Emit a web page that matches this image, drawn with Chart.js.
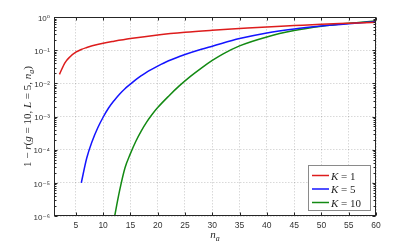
<!DOCTYPE html>
<html lang="en">
<head>
    <meta charset="UTF-8">
    <title>1 - r(g=10, L=5, n_a)</title>
    <style>
        html, body { margin: 0; padding: 0; background: #fff; }
        canvas { display: block; }
    </style>
</head>
<body>
    <canvas id="myChart" width="415" height="243"></canvas>

    <script src="https://cdn.jsdelivr.net/npm/chart.js"></script>
    <script>
        // values (log y axis)
        const nK1 = [2, 3, 4, 5, 6, 7, 8, 10, 12, 15, 20, 25, 30, 35, 40, 45, 50, 55, 60];
        const valK1 = [0.0186, 0.0417, 0.0646, 0.087, 0.105, 0.120, 0.135, 0.162, 0.186, 0.224, 0.288, 0.347, 0.398, 0.447, 0.501, 0.550, 0.603, 0.646, 0.692];

        const nK5 = [6, 7, 8, 9, 10, 11, 12, 13, 14, 15, 16, 17, 18, 20, 22, 25, 28, 30, 35, 40, 45, 50, 55, 60];
        const valK5 = [1e-5, 5.6e-5, 1.8e-4, 4.5e-4, 9.5e-4, 1.8e-3, 3.0e-3, 4.7e-3, 6.9e-3, 9.5e-3, 0.0129, 0.017, 0.0219, 0.0331, 0.0479, 0.0741, 0.107, 0.132, 0.224, 0.331, 0.437, 0.537, 0.631, 0.724];

        const nK10 = [12, 13, 14, 15, 16, 17, 18, 19, 20, 22, 24, 26, 28, 30, 32, 35, 40, 45, 50, 55, 60];
        const valK10 = [7.9e-7, 5.6e-6, 2.8e-5, 7.6e-5, 1.8e-4, 3.7e-4, 6.9e-4, 1.17e-3, 1.86e-3, 4.1e-3, 8.5e-3, 0.0162, 0.0288, 0.049, 0.0776, 0.135, 0.251, 0.389, 0.525, 0.646, 0.759];

        const kLabels = ['1', '5', '10'];
        const xTicks = [5, 10, 15, 20, 25, 30, 35, 40, 45, 50, 55, 60];
        const yTicks = [1e-6, 1e-5, 1e-4, 1e-3, 1e-2, 1e-1, 1];
        const minorMult = [2, 3, 4, 5, 6, 7, 8, 9];

        const colors = ['#dd1c1c', '#1414ff', '#138a13'];
        const serif = '"Liberation Serif", "DejaVu Serif", serif';
        const sans = '"Liberation Sans", "DejaVu Sans", sans-serif';
        const ink = '#262626';

        const sup = { '0': '⁰', '1': '¹', '2': '²', '3': '³', '4': '⁴', '5': '⁵', '6': '⁶', '7': '⁷', '8': '⁸', '9': '⁹', '-': '⁻' };
        const toSup = s => String(s).split('').map(c => sup[c] || c).join('');

        const pts = (xs, ys) => xs.map((x, i) => ({ x: x, y: ys[i] }));

        // text with mixed italic / subscript parts: [text, italic, sub]
        function drawRich(ctx, parts, x, y, size, align) {
            const fonts = parts.map(p => (p[1] ? 'italic ' : '') + (p[2] ? size * 0.72 : size) + 'px ' + serif);
            let total = 0;
            parts.forEach((p, i) => { ctx.font = fonts[i]; total += ctx.measureText(p[0]).width; });
            let cx = align === 'center' ? x - total / 2 : x;
            parts.forEach((p, i) => {
                ctx.font = fonts[i];
                ctx.fillText(p[0], cx, y + (p[2] ? size * 0.25 : 0));
                cx += ctx.measureText(p[0]).width;
            });
        }

        const framePlugin = {
            id: 'frame',
            afterDraw(chart) {
                const { ctx, chartArea: a, scales: { x, y } } = chart;
                const L = Math.round(a.left) + 0.5, R = Math.round(a.right) - 0.5;
                const T = Math.round(a.top) + 0.5, B = Math.round(a.bottom) - 0.5;
                ctx.save();
                ctx.strokeStyle = ink;
                ctx.lineWidth = 1;
                ctx.beginPath();
                // x ticks (top and bottom, inward)
                xTicks.forEach(v => {
                    const px = Math.round(x.getPixelForValue(v)) + 0.5;
                    ctx.moveTo(px, B); ctx.lineTo(px, B - 3);
                    ctx.moveTo(px, T); ctx.lineTo(px, T + 3);
                });
                // y major and minor ticks (left and right)
                yTicks.forEach((v, i) => {
                    const py = Math.round(y.getPixelForValue(v)) + 0.5;
                    ctx.moveTo(L, py); ctx.lineTo(L + 3, py);
                    ctx.moveTo(R, py); ctx.lineTo(R - 3, py);
                    if (i < yTicks.length - 1) {
                        minorMult.forEach(m => {
                            const pm = Math.round(y.getPixelForValue(v * m)) + 0.5;
                            ctx.moveTo(L, pm); ctx.lineTo(L + 2, pm);
                            ctx.moveTo(R, pm); ctx.lineTo(R - 2, pm);
                        });
                    }
                });
                ctx.stroke();
                ctx.strokeRect(L, T, R - L, B - T);

                // axis titles
                ctx.fillStyle = ink;
                ctx.textBaseline = 'alphabetic';
                drawRich(ctx, [['n', 1], ['a', 1, 1]], (a.left + a.right) / 2, 238, 11, 'center');
                ctx.save();
                ctx.translate(31, (a.top + a.bottom) / 2);
                ctx.rotate(-Math.PI / 2);
                drawRich(ctx, [['1 − ', 0], ['r', 1], ['(', 0], ['g', 1], [' = 10, ', 0], ['L', 1], [' = 5, ', 0], ['n', 1], ['a', 1, 1], [')', 0]], 0, 0, 11, 'center');
                ctx.restore();

                // legend box
                const bx = 308.5, by = 165.5, bw = 62, bh = 45;
                ctx.fillStyle = '#fff';
                ctx.fillRect(bx, by, bw, bh);
                ctx.strokeStyle = '#8a8a8a';
                ctx.strokeRect(bx, by, bw, bh);
                chart.data.datasets.forEach((ds, i) => {
                    const ry = 175.5 + i * 13.5;
                    ctx.strokeStyle = ds.borderColor;
                    ctx.lineWidth = 1.5;
                    ctx.beginPath();
                    ctx.moveTo(312, ry); ctx.lineTo(329, ry);
                    ctx.stroke();
                    ctx.fillStyle = ink;
                    drawRich(ctx, [['K', 1], [' = ' + kLabels[i], 0]], 331, ry + 4, 11, 'left');
                });
                ctx.restore();
            }
        };

        const ctx = document.getElementById('myChart').getContext('2d');
        const myChart = new Chart(ctx, {
            type: 'line',
            data: {
                datasets: [
                    { label: 'K = 1', data: pts(nK1, valK1) },
                    { label: 'K = 5', data: pts(nK5, valK5) },
                    { label: 'K = 10', data: pts(nK10, valK10) }
                ].map((d, i) => Object.assign(d, {
                    borderColor: colors[i],
                    backgroundColor: colors[i],
                    borderWidth: 1.5,
                    pointRadius: 0,
                    fill: false,
                    cubicInterpolationMode: 'monotone'
                }))
            },
            options: {
                responsive: false,
                animation: false,
                layout: { padding: { left: 0, top: 17, right: 39, bottom: 0 } },
                plugins: {
                    legend: { display: false },
                    tooltip: { enabled: false }
                },
                scales: {
                    x: {
                        type: 'linear',
                        min: 1,
                        max: 60,
                        afterBuildTicks: s => { s.ticks = xTicks.map(v => ({ value: v })); },
                        afterFit: s => { s.height = 27; },
                        ticks: {
                            autoSkip: false,
                            maxRotation: 0,
                            padding: 5,
                            color: '#333',
                            font: { family: sans, size: 8.5 }
                        },
                        grid: { color: 'rgba(0,0,0,0.15)', lineWidth: 1, drawTicks: false },
                        border: { display: false, dash: [1.5, 1.5] }
                    },
                    y: {
                        type: 'logarithmic',
                        min: 1e-6,
                        max: 1,
                        afterBuildTicks: s => { s.ticks = yTicks.map(v => ({ value: v })); },
                        afterFit: s => { s.width = 54; },
                        ticks: {
                            autoSkip: false,
                            padding: 4,
                            labelOffset: 1.5,
                            color: '#333',
                            font: { family: sans, size: 8 },
                            callback: v => '10' + toSup(Math.round(Math.log10(v)))
                        },
                        grid: { color: 'rgba(0,0,0,0.15)', lineWidth: 1, drawTicks: false },
                        border: { display: false, dash: [1.5, 1.5] }
                    }
                }
            },
            plugins: [framePlugin]
        });
    </script>
</body>
</html>
